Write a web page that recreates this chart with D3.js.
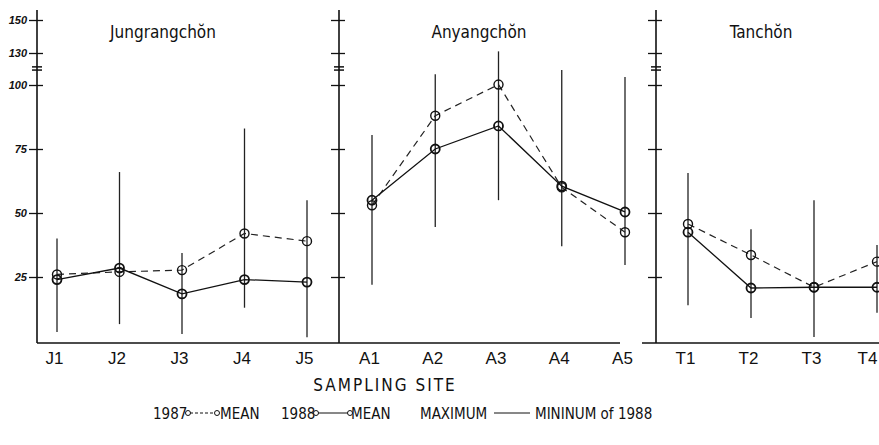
<!DOCTYPE html>
<html lang="en">
<head>
  <meta charset="UTF-8" />
  <title>Sampling site means</title>
  <script src="https://d3js.org/d3.v7.min.js"></script>
  <style>
    body { margin: 0; background: #fff; }
    svg { display: block; font-family: 'Liberation Sans Narrow', 'DejaVu Sans Condensed', 'Liberation Sans', sans-serif; }
    .ylab { font-size: 11px; font-style: italic; font-weight: bold; }
    .xlab { font-size: 17px; }
    .title { font-size: 17px; }
    .legend { font-size: 15px; }
  </style>
</head>
<body>
  <svg width="879" height="445"></svg>

  <script>
    // values, one list per panel
    const sitesJ = ["J1", "J2", "J3", "J4", "J5"];
    const mean1987J = [26, 27, 27.7, 42, 39];
    const mean1988J = [24, 28.5, 18.4, 24, 23];
    const max1988J = [40, 66, 34.4, 83, 55];
    const min1988J = [3.5, 6.6, 2.7, 13, 1.5];

    const sitesA = ["A1", "A2", "A3", "A4", "A5"];
    const mean1987A = [53, 88, 100.4, 60, 42.5];
    const mean1988A = [55, 75, 84, 60.5, 50.4];
    const max1988A = [80.5, 110, 131, 114, 107.5];
    const min1988A = [22, 44.5, 55, 37, 29.7];

    const sitesT = ["T1", "T2", "T3", "T4"];
    const mean1987T = [45.7, 33.6, 21, 31];
    const mean1988T = [42.5, 20.7, 21, 21];
    const max1988T = [65.6, 43.7, 55, 37.5];
    const min1988T = [14, 9, 1.6, 11];

    const yTicks = [25, 50, 75, 100, 130, 150];
    const panelTitles = ["Jungrangchŏn", "Anyangchŏn", "Tanchŏn"];

    const panels = [
      { title: panelTitles[0], sites: sitesJ, m87: mean1987J, m88: mean1988J, max: max1988J, min: min1988J,
        axisX: 37, range: [57, 307], titleX: 163 },
      { title: panelTitles[1], sites: sitesA, m87: mean1987A, m88: mean1988A, max: max1988A, min: min1988A,
        axisX: 339, range: [372, 625], titleX: 479 },
      { title: panelTitles[2], sites: sitesT, m87: mean1987T, m88: mean1988T, max: max1988T, min: min1988T,
        axisX: 656, range: [688, 877], titleX: 761 }
    ];

    const svg = d3.select("svg");
    const ink = "#111";

    // hand-drawn axis is broken above 100, so use a piecewise scale
    const y = d3.scaleLinear().domain([0, 100, 130, 150]).range([341, 85, 53, 20]);
    const baseY = 343;

    panels.forEach((p, i) => {
      const g = svg.append("g");
      const x = d3.scalePoint().domain(p.sites).range(p.range);

      // y axis
      const ax = g.append("g")
        .attr("transform", `translate(${p.axisX},0)`)
        .call(d3.axisLeft(y).tickValues(yTicks).tickSize(8).tickPadding(2)
          .tickFormat(i === 0 ? d3.format("d") : ""));
      ax.select(".domain").remove();
      ax.selectAll(".tick line").attr("x1", 6).attr("stroke", ink).attr("stroke-width", 1.3);
      ax.selectAll(".tick text").attr("class", "ylab").attr("fill", ink);
      ax.append("line").attr("y1", 10).attr("y2", baseY).attr("stroke", ink).attr("stroke-width", 1.6);
      // break marks
      [114, 117].forEach(v => {
        ax.append("line").attr("x1", -5).attr("x2", 5)
          .attr("y1", y(v)).attr("y2", y(v)).attr("stroke", ink).attr("stroke-width", 1.5);
      });

      // x axis
      const bx = g.append("g")
        .attr("transform", `translate(0,${baseY})`)
        .call(d3.axisBottom(x).tickSize(0).tickPadding(9));
      bx.select(".domain").remove();
      bx.selectAll(".tick text").attr("class", "xlab").attr("fill", ink).attr("dx", -3);
      if (i === 2) bx.selectAll(".tick text").filter(d => d === "T4").attr("dx", -10);
      const xEnd = i === 0 ? 339 : i === 1 ? 620 : 879;
      const xStart = i === 2 ? 642 : p.axisX;
      bx.append("line").attr("x1", xStart).attr("x2", xEnd).attr("stroke", ink).attr("stroke-width", 1.4);

      // title
      g.append("text").attr("class", "title").attr("x", p.titleX).attr("y", 38)
        .attr("text-anchor", "middle").attr("fill", ink).text(p.title);

      // max-min bars of 1988
      g.selectAll("line.range").data(p.sites).join("line")
        .attr("class", "range")
        .attr("x1", d => x(d)).attr("x2", d => x(d))
        .attr("y1", (d, k) => y(p.max[k])).attr("y2", (d, k) => y(p.min[k]))
        .attr("stroke", "#222").attr("stroke-width", 1.3);

      const line = d3.line().x((d, k) => x(p.sites[k])).y(d => y(d));

      g.append("path").datum(p.m87).attr("d", line)
        .attr("fill", "none").attr("stroke", "#222").attr("stroke-width", 1.2)
        .attr("stroke-dasharray", "7,5");
      g.append("path").datum(p.m88).attr("d", line)
        .attr("fill", "none").attr("stroke", ink).attr("stroke-width", 1.3);

      [p.m87, p.m88].forEach((vals, s) => {
        g.selectAll(`circle.s${s}`).data(vals).join("circle")
          .attr("class", `s${s}`)
          .attr("cx", (d, k) => x(p.sites[k])).attr("cy", d => y(d))
          .attr("r", 4.5).attr("fill", "none")
          .attr("stroke", ink).attr("stroke-width", s ? 1.8 : 1.4);
      });
    });

    // axis title
    svg.append("text").attr("x", 385).attr("y", 391).attr("text-anchor", "middle")
      .attr("class", "xlab").attr("letter-spacing", 2).attr("fill", ink).text("SAMPLING  SITE");

    // legend
    const lg = svg.append("g").attr("class", "legend").attr("fill", ink);
    const ly = 413;
    lg.append("text").attr("x", 153).attr("y", ly + 6).text("1987");
    lg.append("line").attr("x1", 190).attr("x2", 215).attr("y1", ly).attr("y2", ly)
      .attr("stroke", ink).attr("stroke-dasharray", "3,2");
    lg.append("text").attr("x", 220).attr("y", ly + 6).text("MEAN");
    lg.append("text").attr("x", 281).attr("y", ly + 6).text("1988");
    lg.append("line").attr("x1", 318).attr("x2", 348).attr("y1", ly).attr("y2", ly).attr("stroke", ink);
    lg.append("text").attr("x", 351).attr("y", ly + 6).text("MEAN");
    [188, 217, 316, 350].forEach(cx => {
      lg.append("circle").attr("cx", cx).attr("cy", ly).attr("r", 2.5)
        .attr("fill", "#fff").attr("stroke", ink);
    });
    lg.append("text").attr("x", 420).attr("y", ly + 6).text("MAXIMUM");
    lg.append("line").attr("x1", 494).attr("x2", 530).attr("y1", ly).attr("y2", ly).attr("stroke", ink);
    lg.append("text").attr("x", 535).attr("y", ly + 6).text("MININUM  of  1988");
  </script>
</body>
</html>
